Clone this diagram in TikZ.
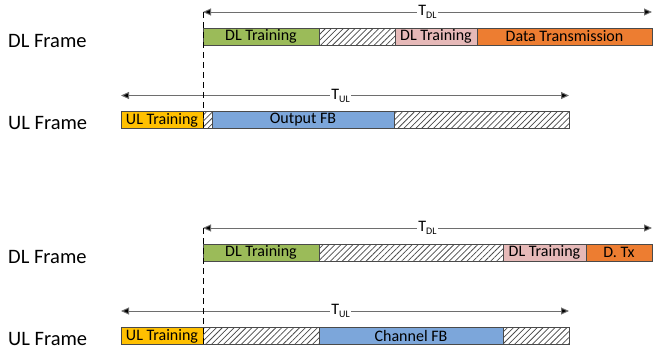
\documentclass[tikz,border=0pt]{standalone}
\usepackage{fontspec}
\setmainfont{Carlito}
\usetikzlibrary{arrows.meta,patterns.meta}
\definecolor{cgreen}{HTML}{9BBB59}
\definecolor{cpink}{HTML}{E6B9B8}
\definecolor{corange}{HTML}{ED7D31}
\definecolor{cyellow}{HTML}{FFC000}
\definecolor{cblue}{HTML}{7CA6DA}
\definecolor{cline}{HTML}{6E6E6E}
\definecolor{cborder}{HTML}{4A4A4A}
\tikzset{
  seg/.style={draw=cborder, line width=0.8pt, anchor=west, inner sep=0pt, outer sep=0pt,
    minimum height=17pt, font=\fontsize{16}{16}\selectfont},
  hatch/.style={seg, pattern={Lines[angle=45,distance=4.2pt,line width=0.75pt]}, pattern color=cborder},
  span/.style={draw=cline, line width=1pt, {Triangle[length=8pt,width=7pt,fill=black]}-{Triangle[length=8pt,width=7pt,fill=black]}},
  spanlbl/.style={fill=white, inner sep=1pt},
  framelbl/.style={anchor=west, inner sep=0pt, font=\fontsize{20.5}{20.5}\selectfont},
  vdash/.style={draw=black, line width=0.8pt, dash pattern=on 6pt off 4pt}
}
\newcommand{\tsub}[1]{{\fontsize{16}{16}\selectfont T}\raisebox{-3pt}{\fontsize{10}{10}\selectfont #1}}
\begin{document}
\begin{tikzpicture}[x=1pt,y=-1pt]
\useasboundingbox (0,0) rectangle (653,354);
% ---------- top panel ----------
\node[framelbl] (dlf1) at (8,41) {DL Frame};
\node[framelbl] (ulf1) at (8,123) {UL Frame};
\coordinate (tdl1l) at (203,12);
\coordinate (tdl1r) at (652,12);
\draw[span] (tdl1l) -- node[spanlbl] (tdl1) {\tsub{DL}} (tdl1r);
\node[seg, fill=cgreen, minimum width=116pt] (a1) at (203,36.5) {DL Training};
\node[hatch, minimum width=76pt] (a2) at (319,36.5) {};
\node[seg, fill=cpink, minimum width=82pt] (a3) at (395,36.5) {DL Training};
\node[seg, fill=corange, minimum width=175pt] (a4) at (477,36.5) {Data Transmission};
\coordinate (tul1l) at (121,95.5);
\coordinate (tul1r) at (569,95.5);
\draw[span] (tul1l) -- node[spanlbl, pos=0.49] (tul1) {\tsub{UL}} (tul1r);
\node[seg, fill=cyellow, minimum width=82pt] (b1) at (121,120) {UL Training};
\node[hatch, minimum width=9pt] (b2) at (203,120) {};
\node[seg, fill=cblue, minimum width=182pt] (b3) at (212,120) {Output FB};
\node[hatch, minimum width=175pt] (b4) at (394,120) {};
\coordinate (d1t) at (203,12);
\coordinate (d1b) at (203,128.5);
\draw[vdash] (d1t) -- (d1b);
% ---------- bottom panel ----------
\node[framelbl] (dlf2) at (8,257) {DL Frame};
\node[framelbl] (ulf2) at (8,339) {UL Frame};
\coordinate (tdl2l) at (203,228);
\coordinate (tdl2r) at (652,228);
\draw[span] (tdl2l) -- node[spanlbl] (tdl2) {\tsub{DL}} (tdl2r);
\node[seg, fill=cgreen, minimum width=116pt] (c1) at (203,252.5) {DL Training};
\node[hatch, minimum width=184pt] (c2) at (319,252.5) {};
\node[seg, fill=cpink, minimum width=83pt] (c3) at (503,252.5) {DL Training};
\node[seg, fill=corange, minimum width=66pt] (c4) at (586,252.5) {D. Tx};
\coordinate (tul2l) at (121,311);
\coordinate (tul2r) at (569,311);
\draw[span] (tul2l) -- node[spanlbl, pos=0.49] (tul2) {\tsub{UL}} (tul2r);
\node[seg, fill=cyellow, minimum width=82pt] (e1) at (121,336) {UL Training};
\node[hatch, minimum width=116pt] (e2) at (203,336) {};
\node[seg, fill=cblue, minimum width=184pt] (e3) at (319,336) {Channel FB};
\node[hatch, minimum width=66pt] (e4) at (503,336) {};
\coordinate (d2t) at (203,228);
\coordinate (d2b) at (203,344.5);
\draw[vdash] (d2t) -- (d2b);
\end{tikzpicture}
\end{document}
